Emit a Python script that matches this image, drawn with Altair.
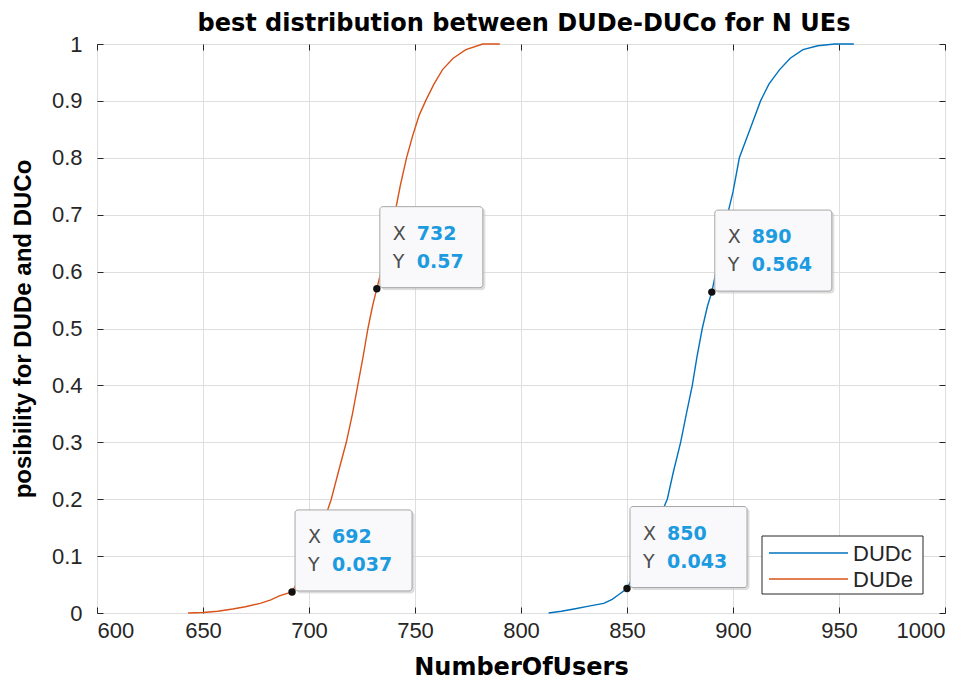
import altair as alt
import pandas as pd

# ---- data ----
title_text = "best distribution between DUDe-DUCo for N UEs"

dude_x = [643, 650, 657, 664, 670, 677, 682, 686, 692, 700, 706, 710.5, 714, 717.6, 720.5, 723,
          725.5, 727.8, 730, 732, 734, 737, 740.4, 743, 746, 749, 752, 755, 759, 763, 768, 774, 782, 790]
dude_y = [0, 0.001, 0.003, 0.007, 0.011, 0.017, 0.023, 0.03, 0.037, 0.09, 0.15, 0.2, 0.25, 0.3, 0.35, 0.4,
          0.45, 0.5, 0.54, 0.57, 0.6, 0.65, 0.7, 0.75, 0.8, 0.84, 0.875, 0.9, 0.93, 0.955, 0.975, 0.99, 1.0, 1.0]

dudc_x = [813, 819, 825, 832, 839, 843, 846, 850, 855, 860, 865, 869, 872, 875.3, 878, 880.8, 883, 885.5,
          888, 890, 892, 895, 897.4, 900, 903, 906, 909, 913, 917, 922, 927, 933, 940, 948, 957]
dudc_y = [0, 0.003, 0.007, 0.012, 0.017, 0.024, 0.032, 0.043, 0.08, 0.12, 0.165, 0.2, 0.25, 0.3, 0.35, 0.4,
          0.45, 0.5, 0.54, 0.564, 0.6, 0.65, 0.7, 0.74, 0.8, 0.83, 0.86, 0.9, 0.93, 0.955, 0.975, 0.99, 0.997, 1.0, 1.0]

tip_x = [692, 732, 850, 890]
tip_y = [0.037, 0.57, 0.043, 0.564]
tip_xlabel = ["692", "732", "850", "890"]
tip_ylabel = ["0.037", "0.57", "0.043", "0.564"]

series_names = ["DUDc", "DUDe"]
series_colors = ["#0072BD", "#D95319"]

x_ticks = [600, 650, 700, 750, 800, 850, 900, 950, 1000]
y_ticks = [0, 0.1, 0.2, 0.3, 0.4, 0.5, 0.6, 0.7, 0.8, 0.9, 1]

# ---- tables ----
lines = pd.concat([
    pd.DataFrame({"x": dudc_x, "y": dudc_y, "series": series_names[0], "order": range(len(dudc_x))}),
    pd.DataFrame({"x": dude_x, "y": dude_y, "series": series_names[1], "order": range(len(dude_x))}),
])
tips = pd.DataFrame({"x": tip_x, "y": tip_y, "xl": tip_xlabel, "yl": tip_ylabel})
tips["long"] = tips["yl"].str.len() > 4

W, H = 848, 569

xscale = alt.Scale(domain=[600, 1000], nice=False, zero=False)
yscale = alt.Scale(domain=[0, 1], nice=False)

xax = alt.Axis(values=x_ticks, title="NumberOfUsers", grid=True, ticks=True, tickSize=6,
               tickColor="#262626", offset=-6, domain=False,
               labelPadding=7, titlePadding=14, format="d",
               titleFont="DejaVu Sans", titleFontSize=24)
yax = alt.Axis(values=y_ticks, title="posibility for DUDe and DUCo", grid=True, ticks=True, tickSize=6,
               tickColor="#262626", offset=-6, domain=False,
               labelPadding=15, titlePadding=16, format="~g", titleFontSize=24)

curves = alt.Chart(lines).mark_line(strokeWidth=1.4).encode(
    x=alt.X("x:Q", scale=xscale, axis=xax),
    y=alt.Y("y:Q", scale=yscale, axis=yax),
    color=alt.Color("series:N", scale=alt.Scale(domain=series_names, range=series_colors), legend=None),
    order="order:Q",
)

tb = alt.Chart(tips)
enc_box = dict(x=alt.X("x:Q", scale=xscale), x2="x:Q",
               y=alt.Y("y:Q", scale=yscale), y2="y:Q")


def box_layer(long_flag, width, shadow=False):
    d = 2 if shadow else 0
    m = tb.transform_filter(alt.datum.long == long_flag).mark_rect(
        xOffset=3 + d, x2Offset=3 + width + d, yOffset=-1 + d, y2Offset=-82 + d,
        cornerRadius=3,
        fill="#c8c8c8" if shadow else "#f9f9fb",
        stroke="#c8c8c8" if shadow else "#a6a6a6",
        strokeWidth=1,
        opacity=0.6 if shadow else 1,
    )
    return m.encode(**enc_box)


boxes = [box_layer(False, 103, True), box_layer(True, 117, True),
         box_layer(False, 103), box_layer(True, 117)]

pos = dict(x=alt.X("x:Q", scale=xscale), y=alt.Y("y:Q", scale=yscale))

xlab = tb.mark_text(text="X", align="left", baseline="alphabetic", dx=16, dy=-49,
                    font="DejaVu Sans", fontSize=19, color="#4d4d4d").encode(**pos)
ylab = tb.mark_text(text="Y", align="left", baseline="alphabetic", dx=16, dy=-21,
                    font="DejaVu Sans", fontSize=19, color="#4d4d4d").encode(**pos)
xval = tb.mark_text(align="left", baseline="alphabetic", dx=40, dy=-49,
                    font="DejaVu Sans", fontSize=19, fontWeight="bold", color="#1c9be0").encode(
    text="xl:N", **pos)
yval = tb.mark_text(align="left", baseline="alphabetic", dx=40, dy=-21,
                    font="DejaVu Sans", fontSize=19, fontWeight="bold", color="#1c9be0").encode(
    text="yl:N", **pos)
dots = tb.mark_point(filled=True, shape="circle", size=55, color="#111111", opacity=1).encode(**pos)

# ---- legend (box at lower right of the plot) ----
leg_box = alt.Chart(pd.DataFrame({"a": [0]})).mark_rect(
    fill="white", stroke="#262626", strokeWidth=1).encode(
    x=alt.value(665), x2=alt.value(826), y=alt.value(492), y2=alt.value(550))
leg_items = []
for i, (nm, col) in enumerate(zip(series_names, series_colors)):
    yy = 509 + 26 * i
    leg_items.append(alt.Chart(pd.DataFrame({"name": [nm]})).mark_rule(
        color=col, strokeWidth=1.4).encode(x=alt.value(672), x2=alt.value(751), y=alt.value(yy)))
    leg_items.append(alt.Chart(pd.DataFrame({"name": [nm]})).mark_text(
        align="left", baseline="middle", font="Liberation Sans", fontSize=22, color="#262626").encode(
        text="name:N", x=alt.value(756), y=alt.value(yy + 1)))

# ---- chart title (drawn as text above the plot) ----
title_mark = alt.Chart(pd.DataFrame({"t": [title_text]})).mark_text(
    align="center", baseline="alphabetic", font="DejaVu Sans", fontSize=24, fontWeight="bold",
    color="#000000").encode(text="t:N", x=alt.value(W / 2 + 3), y=alt.value(-13))

inner = alt.layer(curves, *boxes, dots, xlab, ylab, xval, yval, leg_box, *leg_items, title_mark)

# inward ticks on the top and right edges
ticks_layer = alt.Chart(tips).mark_point(opacity=0).encode(
    x=alt.X("x:Q", scale=xscale, axis=alt.Axis(orient="top", values=x_ticks, labels=False, title=None,
                                                grid=False, domain=False, ticks=True, tickSize=6,
                                                tickColor="#262626", offset=-6, minExtent=0, maxExtent=0)),
    y=alt.Y("y:Q", scale=yscale, axis=alt.Axis(orient="right", values=y_ticks, labels=False, title=None,
                                                grid=False, domain=False, ticks=True, tickSize=6,
                                                tickColor="#262626", offset=-6, minExtent=0, maxExtent=0)),
)

chart = alt.layer(inner, ticks_layer).resolve_axis(x="independent", y="independent").properties(
    width=W, height=H,
    autosize=alt.AutoSizeParams(type="none"),
    padding={"left": 89, "top": 36, "right": 12, "bottom": 72},
    background="white",
).configure_view(stroke="#262626", strokeWidth=1).configure_axis(
    labelFont="Liberation Sans", labelFontSize=22, labelColor="#262626",
    titleFont="Liberation Sans", titleFontSize=26, titleFontWeight="bold", titleColor="#000000",
    gridColor="#dedede", gridWidth=1,
)

chart.save("out.html", embed_options={"renderer": "svg", "actions": False})
